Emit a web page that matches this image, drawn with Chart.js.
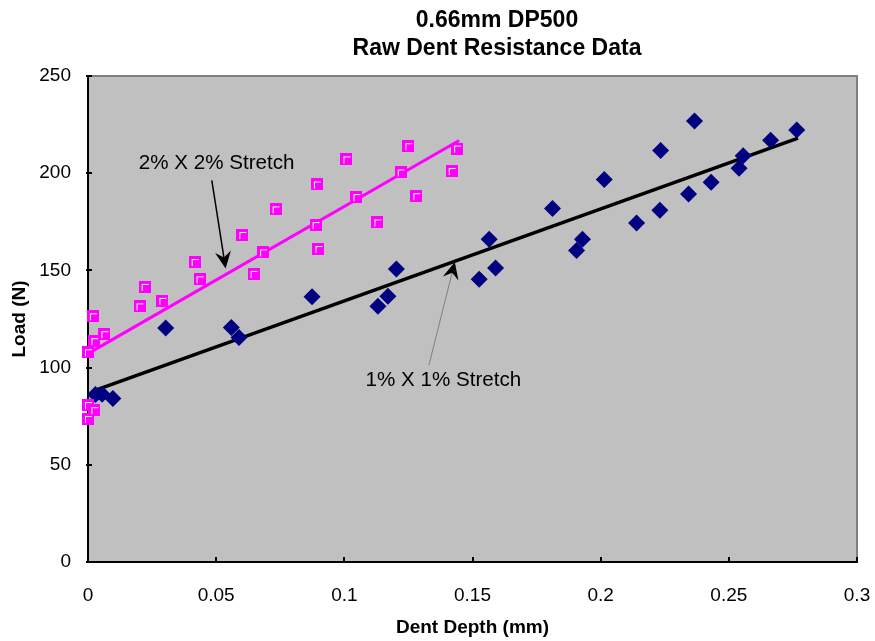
<!DOCTYPE html>
<html>
<head>
<meta charset="utf-8">
<title>0.66mm DP500 Raw Dent Resistance Data</title>
<script src="https://cdn.jsdelivr.net/npm/chart.js@4.4.1/dist/chart.umd.min.js"></script>
<style>
  body { margin: 0; background: #fff; }
  #wrap { width: 875px; height: 641px; }
</style>
</head>
<body>
<div id="wrap"><canvas id="chart" width="875" height="641"></canvas></div>
<script>
/* ===============================
   DATA
================================= */
const titleLines = ["0.66mm DP500", "Raw Dent Resistance Data"];
const xTitle = "Dent Depth (mm)";
const yTitle = "Load (N)";

const xTicks = [0, 0.05, 0.1, 0.15, 0.2, 0.25, 0.3];
const xTickLabels = ["0", "0.05", "0.1", "0.15", "0.2", "0.25", "0.3"];
const yTicks = [0, 50, 100, 150, 200, 250];
const yTickLabels = ["0", "50", "100", "150", "200", "250"];

// 2% X 2% stretch (magenta squares)
const stretch2X = [0, 0, 0, 0.0019, 0.0025, 0.0025, 0.0064, 0.0201, 0.0221, 0.029,
  0.0416, 0.0435, 0.0602, 0.0646, 0.0683, 0.0732, 0.0888, 0.0893, 0.0899, 0.1008,
  0.1047, 0.1129, 0.122, 0.125, 0.1281, 0.1419, 0.144];
const stretch2Y = [107.9, 80.7, 73.6, 126.4, 113.6, 78.1, 117.2, 131.5, 141.5, 134.3,
  154.3, 145.4, 168.2, 148.2, 159.3, 181.4, 173.3, 194.2, 161, 207.1,
  187.7, 174.7, 200.4, 213.9, 188.2, 201.1, 212.7];

// 1% X 1% stretch (navy diamonds)
const stretch1X = [0.0029, 0.0055, 0.0097, 0.0303, 0.0559, 0.0589, 0.0874, 0.1131, 0.117, 0.1203,
  0.1526, 0.1565, 0.159, 0.1812, 0.1906, 0.1929, 0.2014, 0.214, 0.2231, 0.2234,
  0.2343, 0.2366, 0.2431, 0.254, 0.2556, 0.2663, 0.2765];
const stretch1Y = [86.2, 86.3, 84.1, 120.4, 120.6, 115.5, 136.5, 131.5, 136.7, 150.7,
  145.4, 166, 151.2, 181.8, 160.3, 166, 196.7, 174.4, 180.9, 211.7,
  189.3, 226.8, 195.4, 202.5, 209, 216.9, 222.2];

// linear trend lines
const trend2X = [0, 0.1448];
const trend2Y = [107.2, 216.8];
const trend1X = [0.003, 0.277];
const trend1Y = [88.4, 218.0];

// annotation labels: text, text anchor, arrow start, arrow tip (data units)
const labelTexts = ["2% X 2% Stretch", "1% X 1% Stretch"];
const labelAt = [[0.0198, 202.4], [0.1083, 90.5]];
const arrowFrom = [[0.0483, 196.3], [0.1330, 101.3]];
const arrowTo = [[0.0537, 151.0], [0.1431, 154.3]];

/* ===============================
   HELPERS
================================= */
const FONT = "'Liberation Sans', Arial, sans-serif";

function toPoints(xs, ys) {
  return xs.map((x, i) => ({ x: x, y: ys[i] }));
}

// Excel-like magenta square marker with white highlight
function squareMarker() {
  const c = document.createElement("canvas");
  c.width = 12; c.height = 12;
  const g = c.getContext("2d");
  g.fillStyle = "#FF00FF";
  g.fillRect(0, 0, 12, 12);
  g.fillStyle = "#FFFFFF";
  g.fillRect(3, 3, 7, 1);
  g.fillRect(3, 3, 1, 7);
  return c;
}

function drawArrow(ctx, x1, y1, x2, y2, color, width) {
  const ang = Math.atan2(y2 - y1, x2 - x1);
  const len = 17, half = 8, notch = 11;
  const bx = x2 - Math.cos(ang) * notch, by = y2 - Math.sin(ang) * notch;
  ctx.save();
  ctx.strokeStyle = color;
  ctx.lineWidth = width;
  ctx.beginPath();
  ctx.moveTo(x1, y1);
  ctx.lineTo(bx, by);
  ctx.stroke();
  const wx = x2 - Math.cos(ang) * len, wy = y2 - Math.sin(ang) * len;
  const px = -Math.sin(ang) * half, py = Math.cos(ang) * half;
  ctx.fillStyle = "#000";
  ctx.beginPath();
  ctx.moveTo(x2, y2);
  ctx.lineTo(wx + px, wy + py);
  ctx.lineTo(bx, by);
  ctx.lineTo(wx - px, wy - py);
  ctx.closePath();
  ctx.fill();
  ctx.restore();
}

/* ===============================
   PLUGINS
================================= */
const plotFrame = {
  id: "plotFrame",
  beforeDraw(chart) {
    const { ctx, chartArea: a } = chart;
    ctx.save();
    ctx.fillStyle = "#FFFFFF";
    ctx.fillRect(0, 0, chart.width, chart.height);
    ctx.fillStyle = "#C0C0C0";
    ctx.fillRect(a.left, a.top, a.right - a.left, a.bottom - a.top);
    ctx.restore();
  },
  beforeDatasetsDraw(chart) {
    const { ctx, chartArea: a, scales } = chart;
    ctx.save();
    ctx.strokeStyle = "#808080";
    ctx.lineWidth = 2;
    ctx.beginPath();
    ctx.moveTo(a.left, a.top);
    ctx.lineTo(a.right, a.top);
    ctx.lineTo(a.right, a.bottom);
    ctx.stroke();
    // inside tick marks
    ctx.strokeStyle = "#000";
    ctx.lineWidth = 2;
    ctx.beginPath();
    yTicks.forEach(v => {
      const y = Math.round(scales.y.getPixelForValue(v));
      ctx.moveTo(a.left - 2, y);
      ctx.lineTo(a.left + 4, y);
    });
    xTicks.forEach(v => {
      const x = Math.round(scales.x.getPixelForValue(v));
      ctx.moveTo(x, a.bottom + 1);
      ctx.lineTo(x, a.bottom - 5);
    });
    ctx.stroke();
    ctx.restore();
  },
  afterDraw(chart) {
    const { ctx, scales } = chart;
    ctx.save();
    // title
    ctx.fillStyle = "#000";
    ctx.font = "bold 23px " + FONT;
    ctx.textAlign = "center";
    ctx.textBaseline = "alphabetic";
    ctx.fillText(titleLines[0], 497, 27);
    ctx.fillText(titleLines[1], 497, 55);
    // annotations
    ctx.font = "20.6px " + FONT;
    ctx.textAlign = "left";
    labelTexts.forEach((t, i) => {
      ctx.fillText(t, scales.x.getPixelForValue(labelAt[i][0]), scales.y.getPixelForValue(labelAt[i][1]));
    });
    const colors = ["#000000", "#808080"];
    const widths = [1.5, 1];
    arrowFrom.forEach((p, i) => {
      drawArrow(ctx,
        scales.x.getPixelForValue(p[0]), scales.y.getPixelForValue(p[1]),
        scales.x.getPixelForValue(arrowTo[i][0]), scales.y.getPixelForValue(arrowTo[i][1]),
        colors[i], widths[i]);
    });
    ctx.restore();
  }
};

/* ===============================
   CHART
================================= */
const chart = new Chart(document.getElementById("chart"), {
  type: "scatter",
  data: {
    datasets: [
      {
        label: "2% X 2% Stretch",
        data: toPoints(stretch2X, stretch2Y),
        pointStyle: squareMarker(),
        pointRadius: 6,
        clip: false,
        order: 1
      },
      {
        label: "1% X 1% Stretch",
        data: toPoints(stretch1X, stretch1Y),
        pointStyle: "rectRot",
        pointRadius: 8.5,
        backgroundColor: "#000080",
        borderColor: "#000080",
        borderWidth: 0,
        clip: false,
        order: 2
      },
      {
        type: "line",
        label: "trend 2%",
        data: toPoints(trend2X, trend2Y),
        borderColor: "#FF00FF",
        borderWidth: 3,
        pointRadius: 0,
        fill: false,
        order: 3
      },
      {
        type: "line",
        label: "trend 1%",
        data: toPoints(trend1X, trend1Y),
        borderColor: "#000000",
        borderWidth: 3.5,
        pointRadius: 0,
        fill: false,
        order: 4
      }
    ]
  },
  options: {
    responsive: false,
    animation: false,
    layout: { padding: { top: 76, right: 18, left: 0, bottom: 0 } },
    plugins: {
      legend: { display: false },
      tooltip: { enabled: false },
      title: { display: false }
    },
    scales: {
      x: {
        type: "linear",
        min: 0,
        max: 0.3,
        afterBuildTicks: s => { s.ticks = xTicks.map(v => ({ value: v })); },
        afterFit: s => { s.height = 79; s.paddingLeft = 0; s.paddingRight = 0; },
        grid: { display: false, drawTicks: false },
        border: { display: true, color: "#000", width: 2 },
        ticks: {
          padding: 22,
          color: "#000",
          font: { family: FONT, size: 19 },
          callback: (v, i) => xTickLabels[i]
        },
        title: {
          display: true,
          text: xTitle,
          color: "#000",
          font: { family: FONT, size: 19, weight: "bold" },
          padding: { top: 0, bottom: 2 }
        }
      },
      y: {
        type: "linear",
        min: 0,
        max: 250,
        afterBuildTicks: s => { s.ticks = yTicks.map(v => ({ value: v })); },
        afterFit: s => { s.width = 88; s.paddingTop = 0; s.paddingBottom = 0; },
        grid: { display: false, drawTicks: false },
        border: { display: true, color: "#000", width: 2 },
        ticks: {
          padding: 17,
          color: "#000",
          font: { family: FONT, size: 19 },
          callback: (v, i) => yTickLabels[i]
        },
        title: {
          display: true,
          text: yTitle,
          color: "#000",
          font: { family: FONT, size: 19, weight: "bold" },
          padding: { top: 8, bottom: 0 }
        }
      }
    }
  },
  plugins: [plotFrame]
});
</script>
</body>
</html>
